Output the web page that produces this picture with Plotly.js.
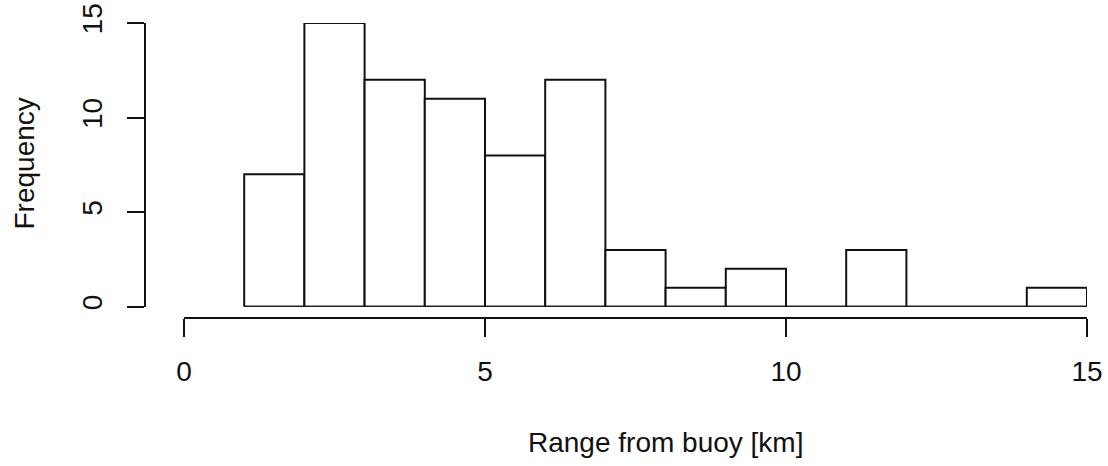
<!DOCTYPE html>
<html>
<head>
<meta charset="utf-8">
<script src="https://cdn.plot.ly/plotly-3.0.1.min.js"></script>
<style>
  html, body { margin: 0; padding: 0; background: #fff; }
  #chart { width: 1108px; height: 466px; }
</style>
</head>
<body>
<div id="chart"></div>
<script>
// Histogram of distances from the buoy, 1 km bins
const binStart = [1, 2, 3, 4, 5, 6, 7, 8, 9, 10, 11, 12, 13, 14];
const binWidth = [1, 1, 1, 1, 1, 1, 1, 1, 1, 1, 1, 1, 1, 1];
const counts   = [7, 15, 12, 11, 8, 12, 3, 1, 2, 0, 3, 0, 0, 1];
const xTicks = [0, 5, 10, 15];
const yTicks = [0, 5, 10, 15];
const xTitle = 'Range from buoy [km]';
const yTitle = 'Frequency';

const ink = '#111';
const fontFamily = 'Liberation Sans, Arial, Helvetica, sans-serif';
const fontSize = 28;

// Plot geometry in pixels
const W = 1108, H = 466;
const mL = 145, mR = 21, mT = 23, mB = 148;
const pw = W - mL - mR, ph = H - mT - mB;
const px = v => (v - mL) / pw;
const py = v => (H - mB - v) / ph;

const bars = {
  type: 'bar',
  x: binStart,
  y: counts,
  width: binWidth,
  offset: 0,
  marker: { color: '#fff', line: { color: ink, width: 2 } },
  cliponaxis: false,
  hoverinfo: 'x+y'
};

// baseline along the whole binned span (shows empty bins as flat lines)
const lastEnd = binStart[binStart.length - 1] + binWidth[binWidth.length - 1];
const baseline = {
  type: 'scatter',
  mode: 'lines',
  x: [binStart[0], lastEnd],
  y: [0, 0],
  line: { color: ink, width: 2 },
  cliponaxis: false,
  hoverinfo: 'skip'
};

const layout = {
  width: W,
  height: H,
  margin: { l: mL, r: mR, t: mT, b: mB, pad: 0 },
  paper_bgcolor: '#fff',
  plot_bgcolor: '#fff',
  showlegend: false,
  bargap: 0,
  font: { family: fontFamily, size: fontSize, color: ink },
  xaxis: {
    domain: [px(184), 1],
    range: [0, 15],
    anchor: 'free',
    position: 0,
    tickvals: xTicks,
    ticktext: xTicks.map(String),
    ticks: 'outside',
    ticklen: 18,
    tickwidth: 2,
    tickcolor: ink,
    showline: true,
    linecolor: ink,
    linewidth: 2,
    showgrid: false,
    zeroline: false,
    ticklabelstandoff: 10,
    tickfont: { family: fontFamily, size: fontSize, color: ink }
  },
  yaxis: {
    domain: [py(306.7), 1],
    range: [0, 15],
    anchor: 'free',
    position: 0,
    tickvals: yTicks,
    ticktext: yTicks.map(String),
    tickangle: -90,
    ticks: 'outside',
    ticklen: 17,
    tickwidth: 2,
    tickcolor: ink,
    showline: true,
    linecolor: ink,
    linewidth: 2,
    showgrid: false,
    zeroline: false,
    ticklabelstandoff: 14,
    tickfont: { family: fontFamily, size: fontSize, color: ink }
  },
  annotations: [
    {
      text: xTitle, xref: 'paper', yref: 'paper',
      x: px(665), y: py(442), xanchor: 'center', yanchor: 'middle',
      showarrow: false, font: { family: fontFamily, size: fontSize, color: ink }
    },
    {
      text: yTitle, xref: 'paper', yref: 'paper',
      x: px(23.5), y: py(164), xanchor: 'center', yanchor: 'middle',
      textangle: -90,
      showarrow: false, font: { family: fontFamily, size: fontSize, color: ink }
    }
  ]
};

Plotly.newPlot('chart', [bars, baseline], layout, { staticPlot: true, displayModeBar: false });
</script>
</body>
</html>
